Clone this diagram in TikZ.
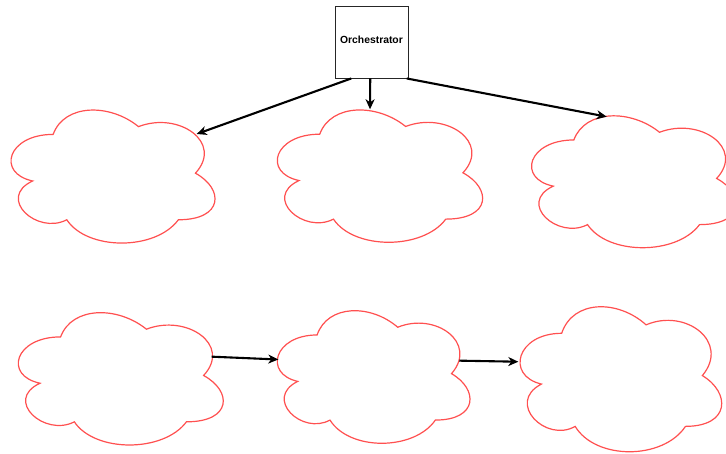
\documentclass[tikz,border=0pt]{standalone}
\usepackage{fontspec}
\setmainfont{Liberation Sans}
\usetikzlibrary{arrows.meta}

\definecolor{cloudred}{RGB}{255,80,80}

\tikzset{
  cloudline/.style={draw=cloudred, line width=1.2pt, fill=white},
  cloud path/.style={insert path={
    (0.25,0.25) .. controls (0.05,0.25) and (0,0.5) .. (0.16,0.55)
    .. controls (0,0.66) and (0.18,0.9) .. (0.31,0.8)
    .. controls (0.4,1) and (0.7,1) .. (0.8,0.8)
    .. controls (1,0.8) and (1,0.6) .. (0.875,0.5)
    .. controls (1,0.3) and (0.8,0.1) .. (0.625,0.2)
    .. controls (0.5,0.05) and (0.3,0.05) .. (0.25,0.25) -- cycle}},
  flow/.style={draw=black, line width=2.1pt,
    -{Stealth[length=10pt,width=9pt,inset=3pt]}},
  orchbox/.style={draw=black!85, line width=0.9pt, fill=white,
    minimum width=73pt, minimum height=72pt, inner sep=0pt,
    text depth=5pt,
    font=\fontsize{10.35}{12}\selectfont\bfseries}
}

\begin{document}
\begin{tikzpicture}[x=1pt, y=-1pt]
\useasboundingbox (0,0) rectangle (726,453);

% orchestrator
\node[orchbox] (orch) at (371.5,42) {Orchestrator};

% top row of clouds
\begin{scope}[shift={(-3.8,95.6)}, xscale=227.7, yscale=155.2]
  \draw[cloudline, cloud path];
  \coordinate (c1) at (0.5,0.5);
  \coordinate (c1in) at (0.8805,0.2474);
\end{scope}
\begin{scope}[shift={(262.4,95.6)}, xscale=229.2, yscale=154.4]
  \draw[cloudline, cloud path];
  \coordinate (c2) at (0.5,0.5);
  \coordinate (c2in) at (0.4695,0.0887);
\end{scope}
\begin{scope}[shift={(516.7,101.5)}, xscale=228.5, yscale=153.9]
  \draw[cloudline, cloud path];
  \coordinate (c3) at (0.5,0.5);
  \coordinate (c3in) at (0.394,0.0988);
\end{scope}

% bottom row of clouds
\begin{scope}[shift={(3.4,298.3)}, xscale=228.8, yscale=154.4]
  \draw[cloudline, cloud path];
  \coordinate (c4) at (0.5,0.5);
  \coordinate (c4out) at (0.910,0.378);
\end{scope}
\begin{scope}[shift={(263.3,296.3)}, xscale=215.1, yscale=154.7]
  \draw[cloudline, cloud path];
  \coordinate (c5) at (0.5,0.5);
  \coordinate (c5in) at (0.0697,0.4085);
  \coordinate (c5out) at (0.911,0.416);
\end{scope}
\begin{scope}[shift={(505.4,291)}, xscale=225.1, yscale=169.2]
  \draw[cloudline, cloud path];
  \coordinate (c6) at (0.5,0.5);
  \coordinate (c6in) at (0.0573,0.418);
\end{scope}

% connectors
\draw[flow] (orch.241) -- (c1in);
\draw[flow] (orch.268) -- (c2in);
\draw[flow] (orch.314) -- (c3in);
\draw[flow] (c4out) -- (c5in);
\draw[flow] (c5out) -- (c6in);
\end{tikzpicture}
\end{document}
